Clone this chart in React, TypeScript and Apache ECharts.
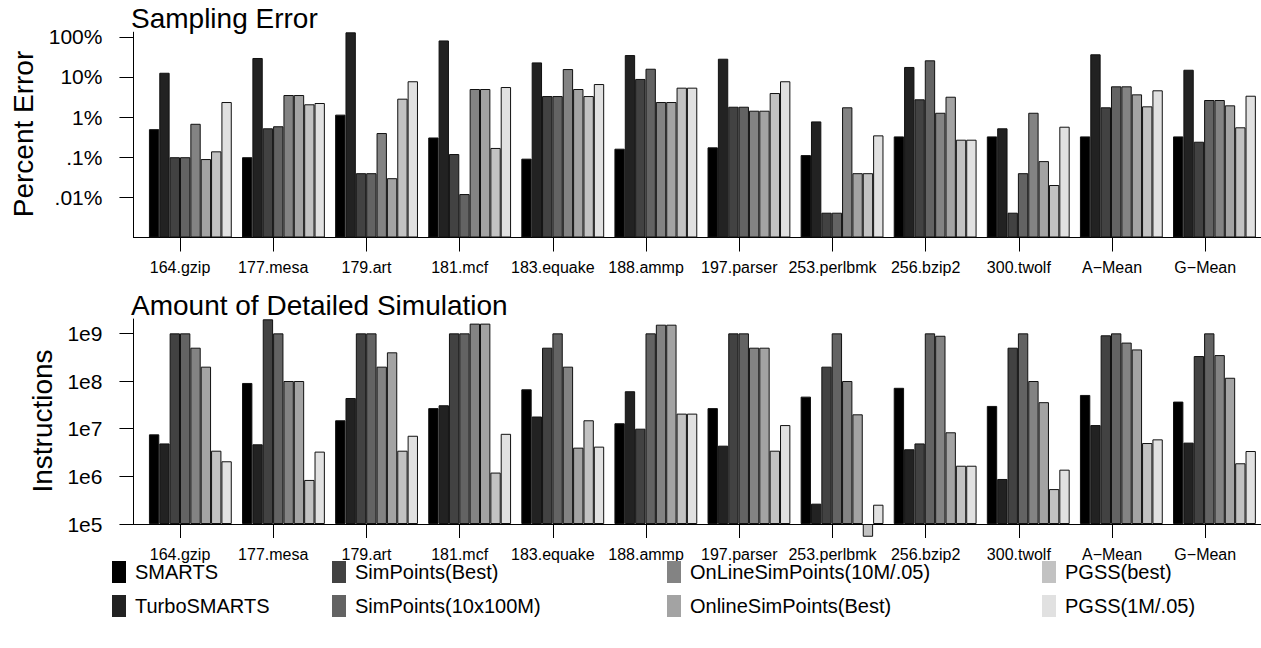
import React, { useEffect, useRef } from 'react';
import * as echarts from 'echarts';

const categories = ['164.gzip', '177.mesa', '179.art', '181.mcf', '183.equake', '188.ammp', '197.parser', '253.perlbmk', '256.bzip2', '300.twolf', 'A\u2212Mean', 'G\u2212Mean'];

const seriesNames = ['SMARTS', 'TurboSMARTS', 'SimPoints(Best)', 'SimPoints(10x100M)', 'OnLineSimPoints(10M/.05)', 'OnlineSimPoints(Best)', 'PGSS(best)', 'PGSS(1M/.05)'];
const seriesColors = ['#000000', '#222222', '#424242', '#636363', '#838383', '#a3a3a3', '#c2c2c2', '#e1e1e1'];

// Sampling error, percent
const errorSMARTS = [0.5, 0.1, 1.15, 0.31, 0.092, 0.163, 0.176, 0.113, 0.33, 0.33, 0.33, 0.33];
const errorTurboSMARTS = [12.7, 29.6, 129, 81, 23, 35, 28.4, 0.78, 17.7, 0.525, 36.6, 15.1];
const errorSimPointsBest = [0.1, 0.525, 0.04, 0.12, 3.34, 8.9, 1.81, 0.00415, 2.77, 0.00415, 1.75, 0.243];
const errorSimPoints10x100M = [0.1, 0.59, 0.04, 0.0121, 3.34, 16, 1.81, 0.00415, 25.9, 0.04, 5.83, 2.66];
const errorOnLine10M = [0.68, 3.54, 0.4, 5.0, 15.7, 2.37, 1.44, 1.75, 1.28, 1.28, 5.83, 2.66];
const errorOnlineBest = [0.09, 3.54, 0.03, 5.0, 5.0, 2.37, 1.44, 0.04, 3.21, 0.08, 3.68, 1.96];
const errorPGSSBest = [0.14, 2.08, 2.87, 0.17, 3.34, 5.4, 3.97, 0.04, 0.273, 0.0203, 1.85, 0.556];
const errorPGSS1M = [2.37, 2.24, 7.8, 5.6, 6.65, 5.4, 7.8, 0.35, 0.273, 0.575, 4.64, 3.4];

// Amount of detailed simulation, instructions
const instrSMARTS = [7.6e6, 9.1e7, 1.5e7, 2.7e7, 6.7e7, 1.3e7, 2.7e7, 4.7e7, 7.2e7, 3.0e7, 5.1e7, 3.7e7];
const instrTurboSMARTS = [4.9e6, 4.7e6, 4.4e7, 3.1e7, 1.8e7, 6.1e7, 4.4e6, 2.67e5, 3.7e6, 8.8e5, 1.19e7, 5.1e6];
const instrSimPointsBest = [1e9, 1.97e9, 1e9, 1e9, 5e8, 1e7, 1e9, 2e8, 4.9e6, 5e8, 9.1e8, 3.34e8];
const instrSimPoints10x100M = [1e9, 1e9, 1e9, 1e9, 1e9, 1e9, 1e9, 1e9, 1e9, 1e9, 1e9, 1e9];
const instrOnLine10M = [5e8, 1e8, 2e8, 1.6e9, 2e8, 1.52e9, 5e8, 1e8, 8.9e8, 1e8, 6.4e8, 3.5e8];
const instrOnlineBest = [2e8, 1e8, 4e8, 1.6e9, 4e6, 1.52e9, 5e8, 2e7, 8.4e6, 3.6e7, 4.6e8, 1.17e8];
const instrPGSSBest = [3.45e6, 8.4e5, 3.45e6, 1.2e6, 1.5e7, 2.07e7, 3.45e6, 5.4e4, 1.67e6, 5.4e5, 5e6, 1.88e6];
const instrPGSS1M = [2.07e6, 3.3e6, 7.1e6, 7.8e6, 4.2e6, 2.07e7, 1.19e7, 2.54e5, 1.67e6, 1.38e6, 5.97e6, 3.4e6];

const errorTickValues = [0.01, 0.1, 1, 10, 100];
const errorTickLabels = ['.01%', '.1%', '1%', '10%', '100%'];
const instrTickValues = [1e5, 1e6, 1e7, 1e8, 1e9];
const instrTickLabels = ['1e5', '1e6', '1e7', '1e8', '1e9'];

const errorData = [errorSMARTS, errorTurboSMARTS, errorSimPointsBest, errorSimPoints10x100M, errorOnLine10M, errorOnlineBest, errorPGSSBest, errorPGSS1M];
const instrData = [instrSMARTS, instrTurboSMARTS, instrSimPointsBest, instrSimPoints10x100M, instrOnLine10M, instrOnlineBest, instrPGSSBest, instrPGSS1M];

const FONT = '"Liberation Sans", Arial, Helvetica, sans-serif';

export default function App() {
  const ref = useRef<HTMLDivElement>(null);
  useEffect(() => {
    if (!ref.current) return;
    const chart = echarts.init(ref.current, null, { renderer: 'svg' });
    const BAND = 93.2;
    const gridW = BAND * categories.length;
    const barW = BAND / 9;
    const mainLeft = 143.8;
    const overLeft = mainLeft - barW;
    const topPanel = { top: 32.2, height: 205.3 };
    const botPanel = { top: 319, height: 205 };

    const grids = [
      { left: mainLeft, width: gridW, ...topPanel },
      { left: overLeft, width: gridW, ...topPanel },
      { left: mainLeft, width: gridW, ...botPanel },
      { left: overLeft, width: gridW, ...botPanel },
    ];

    const mainX = (gi: number) => ({
      type: 'category', gridIndex: gi, data: categories,
      axisLine: { show: true, lineStyle: { color: '#000', width: 1 } },
      axisTick: { show: false }, axisLabel: { show: false }, splitLine: { show: false },
    });
    const overX = (gi: number) => ({
      type: 'category', gridIndex: gi, data: categories,
      axisLine: { show: true, lineStyle: { color: '#000', width: 1 } },
      axisTick: { show: true, alignWithLabel: true, length: 14, lineStyle: { color: '#000', width: 1 } },
      axisLabel: { show: true, interval: 0, margin: 23, fontSize: 16, lineHeight: 14, color: '#000', fontFamily: FONT },
      splitLine: { show: false },
    });
    const labelFor = (vals: number[], labels: string[]) => (v: number) => {
      const e = Math.round(Math.log10(v));
      const i = vals.findIndex((x) => Math.round(Math.log10(x)) === e);
      return i >= 0 ? labels[i] : '';
    };
    const mainY = (gi: number, min: number, max: number) => ({
      type: 'log', logBase: 10, gridIndex: gi, min, max, startValue: min, show: false,
      splitLine: { show: false },
    });
    const overY = (gi: number, min: number, max: number, vals: number[], labels: string[]) => ({
      type: 'log', logBase: 10, gridIndex: gi, min, max,
      axisLine: { show: true, lineStyle: { color: '#000', width: 1 } },
      axisTick: { show: true, length: 14, customValues: vals, lineStyle: { color: '#000', width: 1 } },
      axisLabel: { show: true, customValues: vals, formatter: labelFor(vals, labels), margin: 31, fontSize: 21, color: '#000', fontFamily: FONT },
      splitLine: { show: false },
    });

    const series: any[] = [];
    seriesNames.forEach((name, i) => {
      series.push({
        type: 'bar', name, data: errorData[i], xAxisIndex: 0, yAxisIndex: 0,
        barWidth: barW, barGap: '0%',
        itemStyle: { color: seriesColors[i], borderColor: '#111', borderWidth: 1 },
      });
    });
    seriesNames.forEach((name, i) => {
      series.push({
        type: 'bar', name, data: instrData[i], xAxisIndex: 2, yAxisIndex: 2,
        barWidth: barW, barGap: '0%', clip: false,
        itemStyle: { color: seriesColors[i], borderColor: '#111', borderWidth: 1 },
      });
    });

    const legendCols = [112, 332, 667, 1042];
    const legends = legendCols.map((left, c) => ({
      orient: 'vertical', left, top: 561, padding: 0, itemWidth: 14, itemHeight: 22, itemGap: 12,
      icon: 'rect', selectedMode: false,
      data: [seriesNames[c * 2], seriesNames[c * 2 + 1]],
      itemStyle: { borderWidth: 0 },
      textStyle: { fontSize: 20, lineHeight: 14, color: '#000', fontFamily: FONT, padding: [0, 0, 0, 4] },
    }));

    chart.setOption({
      animation: false,
      textStyle: { fontFamily: FONT },
      title: [
        { text: 'Sampling Error', left: 131, top: 4, padding: 0, textStyle: { fontSize: 28, fontWeight: 'normal', color: '#000', fontFamily: FONT } },
        { text: 'Amount of Detailed Simulation', left: 131, top: 291, padding: 0, textStyle: { fontSize: 28, fontWeight: 'normal', color: '#000', fontFamily: FONT } },
      ],
      grid: grids,
      xAxis: [mainX(0), overX(1), mainX(2), overX(3)],
      yAxis: [
        mainY(0, 0.001, 130),
        overY(1, 0.001, 130, errorTickValues, errorTickLabels),
        mainY(2, 1e5, 2e9),
        overY(3, 1e5, 2e9, instrTickValues, instrTickLabels),
      ],
      legend: legends,
      graphic: [
        { type: 'text', x: 23, y: 134, rotation: Math.PI / 2, style: { text: 'Percent Error', fontSize: 28, fill: '#000', align: 'center', verticalAlign: 'middle', fontFamily: FONT } },
        { type: 'text', x: 42, y: 421, rotation: Math.PI / 2, style: { text: 'Instructions', fontSize: 28, fill: '#000', align: 'center', verticalAlign: 'middle', fontFamily: FONT } },
      ],
      series,
    });
    return () => chart.dispose();
  }, []);
  return <div ref={ref} style={{ position: 'absolute', left: 0, top: 0, width: 1261, height: 648 }} />;
}
